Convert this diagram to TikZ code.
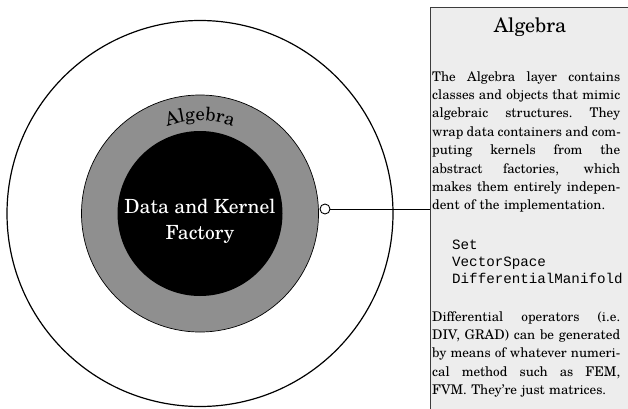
\documentclass[tikz,border=0pt]{standalone}
\usepackage{fontspec}
\setmainfont{texgyreschola}[Extension=.otf, UprightFont=*-regular, BoldFont=*-bold, ItalicFont=*-italic, BoldItalicFont=*-bolditalic]
\setmonofont{Liberation Mono}
\usetikzlibrary{decorations.text}
\definecolor{ringgray}{RGB}{143,143,143}
\definecolor{boxfill}{RGB}{237,237,237}
\definecolor{boxline}{RGB}{60,60,60}
\newcommand\jline[1]{\leavevmode\hbox to 188pt{\spaceskip=.3em plus 1fil minus .05em\xspaceskip=.3em plus 1fil minus .05em #1}}
\tikzset{
  outerring/.style={draw=black, line width=1.2pt, fill=white},
  midring/.style={draw=black, line width=0.7pt, fill=ringgray},
  core/.style={fill=black},
  infobox/.style={draw=boxline, line width=1pt, fill=boxfill, inner sep=0pt},
  bodytext/.style={inner sep=0pt, text width=190pt, align=left, font=\fontsize{13.3}{18.4}\selectfont},
  codetext/.style={inner sep=0pt, align=left, font=\ttfamily\fontsize{14.2}{17}\selectfont},
  pin/.style={circle, draw=black, line width=0.9pt, fill=white, minimum size=10pt, inner sep=0pt},
  connector/.style={draw=black, line width=0.9pt}
}
\begin{document}
\begin{tikzpicture}[x=1pt,y=1pt]
\path[use as bounding box] (0,0) rectangle (628,408);
\clip (0,0) rectangle (628,408);
% circles
\fill[white] (0,0) rectangle (628,408);
\node[outerring, circle, minimum size=386pt, inner sep=0pt] (outer) at (200,194.5) {};
\node[midring, circle, minimum size=237pt, inner sep=0pt] (mid) at (200,194.5) {};
\node[core, circle, minimum size=165pt, inner sep=0pt] (coreC) at (200,194.5) {};
\path[decorate, decoration={text along path, text align=center, text={|\fontsize{18.5}{20}\selectfont|Algebra}}]
  (107,194.5) arc[start angle=180, end angle=0, radius=93pt];
\node[text=white, align=center, font=\fontsize{19.5}{26}\selectfont, inner sep=0pt] (coretext) at (200,187) {Data and Kernel\\Factory};
% info box
\node[infobox, anchor=north west, minimum width=220pt, minimum height=420pt] (box) at (430,401) {};
\node[inner sep=0pt, font=\fontsize{20}{24}\selectfont] (title) at (530,381) {Algebra};
\node[bodytext, anchor=north west] (para1) at (432,337) {\jline{The Algebra layer contains}\\
\jline{classes and objects that mimic}\\
\jline{algebraic structures. They}\\
\jline{wrap data containers and com-}\\
\jline{puting kernels from the}\\
\jline{abstract factories, which}\\
\jline{makes them entirely indepen-}\\
dent of the implementation.};
\node[codetext, anchor=north west] (code) at (452,168) {Set\\VectorSpace\\DifferentialManifold};
\node[bodytext, anchor=north west] (para2) at (432,97) {\jline{Differential operators (i.e.}\\
\jline{DIV, GRAD) can be generated}\\
\jline{by means of whatever numeri-}\\
\jline{cal method such as FEM,}\\
FVM. They’re just matrices.};
% connector
\node[pin] (dot) at (325,199) {};
\draw[connector] (dot.east) -- (dot -| box.west);
\end{tikzpicture}
\end{document}
